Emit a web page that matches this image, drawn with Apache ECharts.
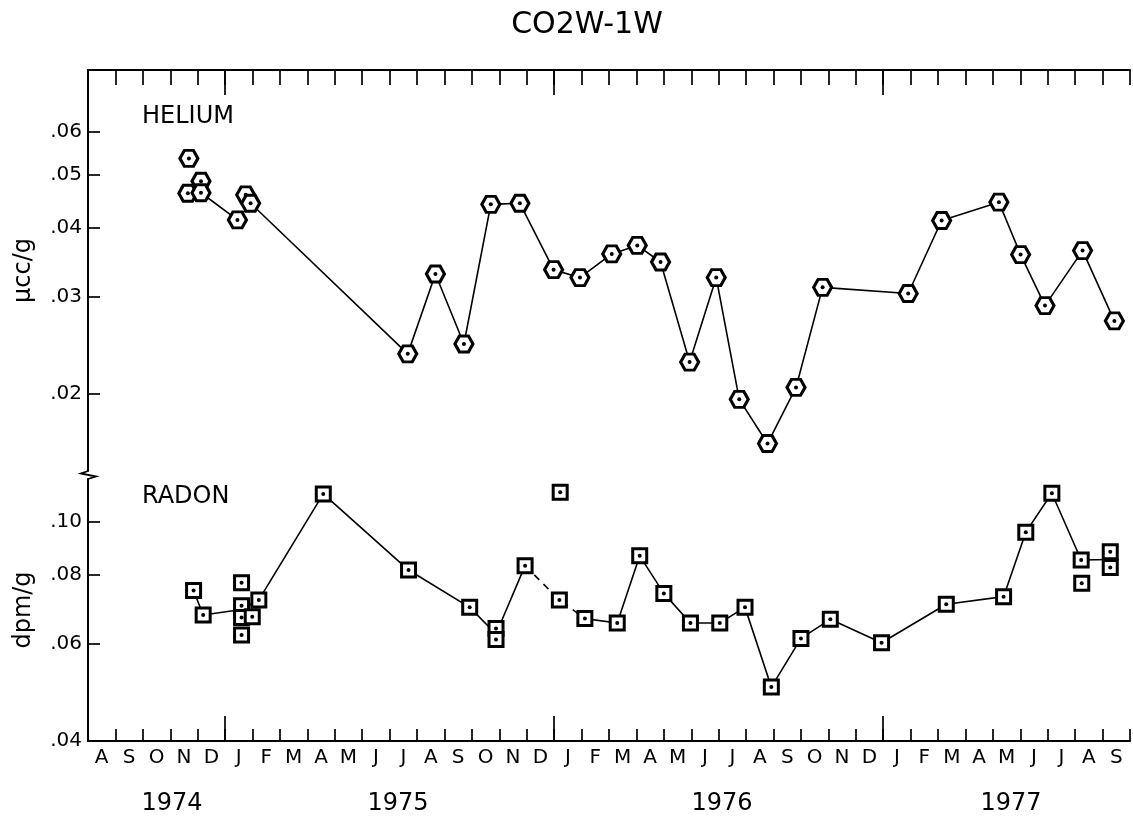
<!DOCTYPE html>
<html>
<head>
<meta charset="utf-8">
<script src="https://cdn.jsdelivr.net/npm/echarts@6/dist/echarts.min.js"></script>
<style>
  html, body { margin: 0; padding: 0; background: #fff; }
  #chart { width: 1133px; height: 817px; }
</style>
</head>
<body>
<div id="chart"></div>
<script>
// Month letters, Aug 1974 .. Sep 1977 (one band per month)
const MONTH_LETTERS = ['A','S','O','N','D',
  'J','F','M','A','M','J','J','A','S','O','N','D',
  'J','F','M','A','M','J','J','A','S','O','N','D',
  'J','F','M','A','M','J','J','A','S'];
const YEAR_LABELS = ['1974', '1975', '1976', '1977'];
const HELIUM_TICKS = [0.02, 0.03, 0.04, 0.05, 0.06];
const RADON_TICKS = [0.04, 0.06, 0.08, 0.10];

// Helium samples: time in months after 1 Aug 1974, concentration in μcc/g
const HELIUM_T = [3.68, 3.64, 4.12, 4.12, 5.45, 5.75, 5.93, 11.66, 12.67, 13.71,
  14.69, 15.75, 16.98, 17.94, 19.10, 20.03, 20.88, 21.94, 22.91, 23.75,
  24.78, 25.82, 26.79, 29.91, 31.13, 33.22, 34.01, 34.90, 36.27, 37.43];
const HELIUM_V = [0.0536, 0.0463, 0.0487, 0.0464, 0.0414, 0.0460, 0.0444, 0.0236, 0.0330, 0.0246,
  0.0442, 0.0444, 0.0336, 0.0325, 0.0359, 0.0372, 0.0347, 0.0228, 0.0325, 0.0195,
  0.0162, 0.0205, 0.0312, 0.0304, 0.0413, 0.0446, 0.0358, 0.0289, 0.0364, 0.0271];
// Samples joined by the helium trace, in order
const HELIUM_PATH = [3, 4, 6, 7, 8, 9, 10, 11, 12, 13, 14, 15, 16, 17, 18, 19, 20, 21, 22,
  23, 24, 25, 26, 27, 28, 29];

// Radon samples: time in months after 1 Aug 1974, activity in dpm/g
const RADON_T = [3.85, 4.20, 5.60, 5.60, 5.60, 5.60, 5.99, 6.23, 8.58, 11.69,
  13.92, 14.88, 14.88, 15.94, 17.22, 17.19, 18.12, 19.30, 20.12, 21.00,
  21.97, 23.04, 23.96, 24.92, 26.00, 27.07, 28.94, 31.30, 33.39, 34.20,
  35.15, 36.22, 36.24, 37.28, 37.28];
const RADON_V = [0.0750, 0.0677, 0.0775, 0.0704, 0.0670, 0.0623, 0.0672, 0.0721, 0.1123, 0.0817,
  0.0699, 0.0640, 0.0611, 0.0832, 0.1131, 0.0721, 0.0667, 0.0655, 0.0867, 0.0741,
  0.0655, 0.0655, 0.0699, 0.0501, 0.0614, 0.0665, 0.0603, 0.0708, 0.0731, 0.0957,
  0.1126, 0.0852, 0.0773, 0.0882, 0.0826];
// Joined samples; a nested list joins at the mean of same-day replicates
const RADON_PATH_A = [0, 1, [2, 3, 4, 5], 7, 8, 9, 10, [11, 12], 13];
const RADON_PATH_DASHED = [13, 15, 16];
const RADON_PATH_B = [16, 17, 18, 19, 20, 21, 22, 23, 24, 25, 26, 27, 28, 29, 30, 31, [33, 34]];

const FONT = 'DejaVu Sans';
const INK = '#000';

function pathPoints(path, T, V) {
  return path.map(function (node) {
    if (typeof node === 'number') return [T[node], V[node]];
    let s = 0;
    node.forEach(function (i) { s += V[i]; });
    return [T[node[0]], s / node.length];
  });
}
function samples(T, V) {
  return T.map(function (t, i) { return [t, V[i]]; });
}

const yearStarts = [];
MONTH_LETTERS.forEach(function (m, i) { if (m === 'J' && MONTH_LETTERS[i - 1] === 'D') yearStarts.push(i); });
const nMonths = MONTH_LETTERS.length;
const monthCentres = MONTH_LETTERS.map(function (_, i) { return i + 0.5; });

const HEX = 'path://M-1 0L-0.5 -0.866L0.5 -0.866L1 0L0.5 0.866L-0.5 0.866Z';
const tickLabel = function (v) { return v.toFixed(2).replace(/^0/, ''); };

function monthAxis(gridIndex, position, showLine, tickLen, customTicks, labels) {
  const ax = {
    type: 'value', gridIndex: gridIndex, position: position,
    min: 0, max: nMonths, interval: 1,
    axisLine: { show: showLine, onZero: false, lineStyle: { color: INK, width: 2 } },
    axisTick: { show: true, inside: true, length: tickLen, lineStyle: { color: INK, width: 1.7 } },
    axisLabel: { show: false },
    splitLine: { show: false }
  };
  if (customTicks) ax.axisTick.customValues = customTicks;
  if (labels) {
    ax.axisLabel = {
      show: true, customValues: monthCentres, margin: 7,
      color: INK, fontFamily: FONT, fontSize: 20,
      formatter: function (v) { return MONTH_LETTERS[Math.floor(v)]; }
    };
  }
  return ax;
}

function logAxis(gridIndex, min, max, ticks, name) {
  return {
    type: 'log', gridIndex: gridIndex, min: min, max: max,
    name: name, nameLocation: 'middle', nameRotate: 90, nameGap: 52,
    nameTextStyle: { color: INK, fontFamily: FONT, fontSize: 24 },
    axisLine: { show: true, onZero: false, lineStyle: { color: INK, width: 2 } },
    axisTick: { show: true, inside: true, length: 12, customValues: ticks, lineStyle: { color: INK, width: 1.7 } },
    axisLabel: { show: true, customValues: ticks, margin: 6, color: INK, fontFamily: FONT, fontSize: 20, formatter: tickLabel },
    splitLine: { show: false }
  };
}

function trace(xi, yi, data, dashed) {
  return {
    type: 'line', xAxisIndex: xi, yAxisIndex: yi, data: data,
    showSymbol: false, symbol: 'none', silent: true, z: 2,
    lineStyle: { color: INK, width: 1.6, type: dashed ? [7, 6] : 'solid' }
  };
}
function markers(xi, yi, data, symbol, size) {
  return {
    type: 'scatter', xAxisIndex: xi, yAxisIndex: yi, data: data,
    symbol: symbol, symbolSize: size, silent: true, z: 3,
    itemStyle: { color: '#fff', borderColor: INK, borderWidth: 3, opacity: 1 }
  };
}
function dots(xi, yi, data) {
  return {
    type: 'scatter', xAxisIndex: xi, yAxisIndex: yi, data: data,
    symbol: 'circle', symbolSize: 4, silent: true, z: 4,
    itemStyle: { color: INK, opacity: 1 }
  };
}

const heliumPts = samples(HELIUM_T, HELIUM_V);
const radonPts = samples(RADON_T, RADON_V);

const chart = echarts.init(document.getElementById('chart'), null, { renderer: 'canvas' });
chart.setOption({
  animation: false,
  backgroundColor: '#fff',
  grid: [
    { left: 88, right: 3, top: 70, height: 401 },
    { left: 88, right: 3, top: 479, height: 262 }
  ],
  xAxis: [
    monthAxis(0, 'top', true, 15, null, false),
    monthAxis(0, 'top', false, 25, yearStarts, false),
    monthAxis(1, 'bottom', true, 12, null, true),
    monthAxis(1, 'bottom', false, 25, yearStarts, false)
  ],
  yAxis: [
    logAxis(0, 0.014436, 0.07767, HELIUM_TICKS, 'μcc/g'),
    logAxis(1, 0.04, 0.1195, RADON_TICKS, 'dpm/g')
  ],
  series: [
    trace(0, 0, pathPoints(HELIUM_PATH, HELIUM_T, HELIUM_V), false),
    markers(0, 0, heliumPts, HEX, [18, 16]),
    dots(0, 0, heliumPts),
    trace(2, 1, pathPoints(RADON_PATH_A, RADON_T, RADON_V), false),
    trace(2, 1, pathPoints(RADON_PATH_DASHED, RADON_T, RADON_V), true),
    trace(2, 1, pathPoints(RADON_PATH_B, RADON_T, RADON_V), false),
    markers(2, 1, radonPts, 'rect', 14),
    dots(2, 1, radonPts)
  ],
  graphic: [
    { type: 'text', x: 587, y: 25,
      style: { text: 'CO2W-1W', font: '30px "DejaVu Sans"', fill: INK, align: 'center', verticalAlign: 'middle' } },
    { type: 'text', x: 142, y: 105,
      style: { text: 'HELIUM', font: '24px "DejaVu Sans"', fill: INK } },
    { type: 'text', x: 142, y: 485,
      style: { text: 'RADON', font: '24px "DejaVu Sans"', fill: INK } },
    { type: 'text', x: 172, y: 804, style: { text: YEAR_LABELS[0], font: '24px "DejaVu Sans"', fill: INK, align: 'center', verticalAlign: 'middle' } },
    { type: 'text', x: 398, y: 804, style: { text: YEAR_LABELS[1], font: '24px "DejaVu Sans"', fill: INK, align: 'center', verticalAlign: 'middle' } },
    { type: 'text', x: 722, y: 804, style: { text: YEAR_LABELS[2], font: '24px "DejaVu Sans"', fill: INK, align: 'center', verticalAlign: 'middle' } },
    { type: 'text', x: 1011, y: 804, style: { text: YEAR_LABELS[3], font: '24px "DejaVu Sans"', fill: INK, align: 'center', verticalAlign: 'middle' } },
    { type: 'polyline', shape: { points: [[88, 471], [81, 473.5], [96, 476.5], [88, 479]] },
      style: { stroke: INK, lineWidth: 1.8, fill: null } }
  ]
});
</script>
</body>
</html>
